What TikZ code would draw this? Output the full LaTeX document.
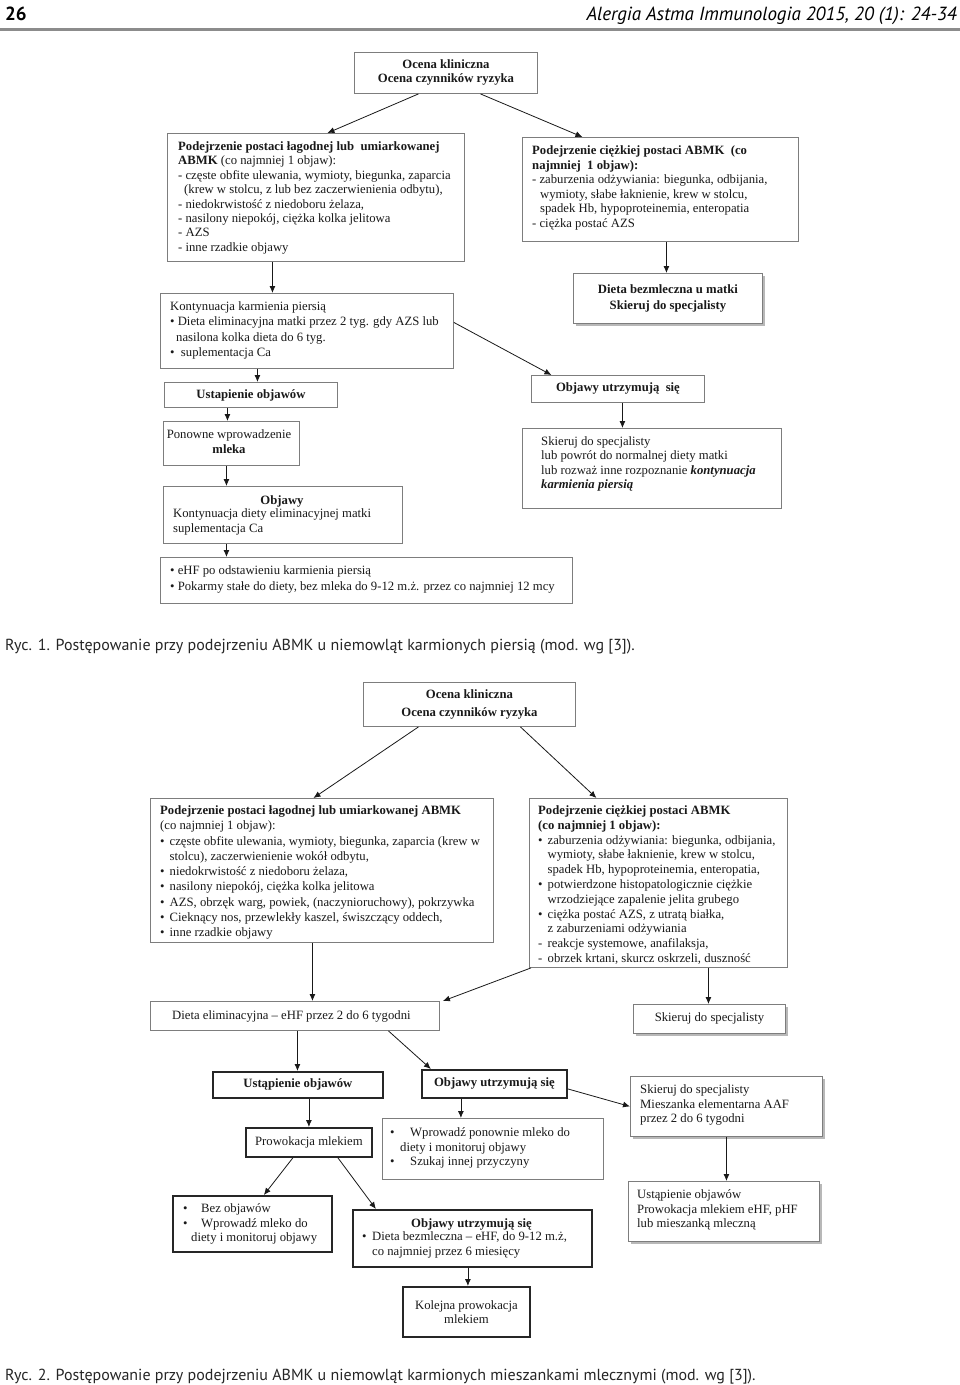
\documentclass[tikz,border=0pt]{standalone}
\usepackage{fontspec}
\setmainfont{Liberation Serif}
\newfontfamily\capfont{PT Sans}
\usetikzlibrary{arrows.meta,shadows,calc}
\definecolor{boxgray}{RGB}{125,125,125}
\definecolor{txtcol}{RGB}{25,25,25}
\definecolor{rulegray}{RGB}{140,140,140}
\newcommand{\itm}[1]{\makebox[9.5pt][l]{#1}}
\newcommand{\varrow}[4]{\coordinate (#1) at ([xshift=#3pt]#2.south); \draw[arr] (#1) -- (#1 |- #4.north);}
\begin{document}
\begin{tikzpicture}[x=1pt,y=-1pt,
  bx/.style={draw=boxgray, line width=0.9pt, fill=white, inner sep=0pt, anchor=north west, text=txtcol, align=center, font=\fontsize{12.7}{14.5}\selectfont},
  tbx/.style={bx, draw=black!85, line width=1.8pt},
  shd/.style={drop shadow={shadow xshift=3pt, shadow yshift=-3pt, fill=black!28, opacity=1}},
  tx/.style={anchor=north west, yshift=8.5pt, align=left, inner sep=0pt, text=txtcol, font=\fontsize{12.7}{14.5}\selectfont, execute at begin node={\rule{0pt}{11pt}}},
  ctx/.style={tx, anchor=north, align=center},
  arr/.style={-{Latex[length=7pt,width=6pt]}, line width=0.8pt, draw=black!90},
  captxt/.style={anchor=base west, inner sep=0pt, text=black!85, font=\capfont\fontsize{16}{16}\selectfont}
]
\fill[white] (0,0) rectangle (960,1385);
\useasboundingbox (0,0) rectangle (960,1385);

% header
\node[anchor=base west, inner sep=0pt, font=\capfont\bfseries\fontsize{19}{19}\selectfont] (pg) at (5,20) {26};
\node[anchor=base east, inner sep=0pt, font=\capfont\itshape\fontsize{19}{19}\selectfont] (jr) at (957,20) {Alergia Astma Immunologia 2015, 20 (1): 24-34};
\draw[line width=3pt, rulegray] (0,29) -- (960,29);

% ================= Figure 1 =================
\node[bx, minimum width=183pt, minimum height=41pt, font=\bfseries\fontsize{12.7}{14}\selectfont] (T1) at (354,52) {Ocena kliniczna\\Ocena czynników ryzyka};
\node[bx, minimum width=297pt, minimum height=128pt] (L1) at (167,133) {};
\node[tx, font=\fontsize{12.7}{14.4}\selectfont] (L1t) at (178,150) {\textbf{Podejrzenie postaci łagodnej lub\ \ umiarkowanej}\\
\textbf{ABMK} (co najmniej 1 objaw):\\
- częste obfite ulewania, wymioty, biegunka, zaparcia\\
\hspace*{6pt}(krew w stolcu, z lub bez zaczerwienienia odbytu),\\
- niedokrwistość z niedoboru żelaza,\\
- nasilony niepokój, ciężka kolka jelitowa\\
- AZS\\
- inne rzadkie objawy};
\node[bx, minimum width=276pt, minimum height=104pt] (R1) at (522,137) {};
\node[tx, font=\fontsize{12.7}{14.6}\selectfont] (R1t) at (532,154) {\textbf{Podejrzenie ciężkiej postaci ABMK\ \ (co}\\
\textbf{najmniej\ \ 1 objaw):}\\
- zaburzenia odżywiania: biegunka, odbijania,\\
\hspace*{8pt}wymioty, słabe łaknienie, krew w stolcu,\\
\hspace*{8pt}spadek Hb, hypoproteinemia, enteropatia\\
- ciężka postać AZS};
\node[bx, shd, minimum width=189pt, minimum height=50pt, font=\bfseries\fontsize{12.7}{16}\selectfont] (D1) at (573,273) {Dieta bezmleczna u matki\\Skieruj do specjalisty};
\node[bx, minimum width=293pt, minimum height=75pt] (K1) at (160,293) {};
\node[tx, font=\fontsize{12.7}{15.3}\selectfont] (K1t) at (170,310) {Kontynuacja karmienia piersią\\
• Dieta eliminacyjna matki przez 2 tyg. gdy AZS lub\\
\hspace*{6pt}nasilona kolka dieta do 6 tyg.\\
•\ \ suplementacja Ca};
\node[bx, minimum width=173pt, minimum height=25pt, font=\bfseries\fontsize{12.7}{14}\selectfont] (U1) at (164,382) {Ustapienie objawów};
\node[bx, minimum width=173pt, minimum height=27pt, font=\bfseries\fontsize{12.7}{14}\selectfont] (O1) at (531,375) {Objawy utrzymują\ \ się};
\node[bx, minimum width=136pt, minimum height=44pt] (P1) at (163,421) {};
\node[ctx] (P1t) at (229,438) {Ponowne wprowadzenie\\\textbf{mleka}};
\node[bx, minimum width=239pt, minimum height=57pt] (B1) at (163,486) {};
\node[ctx] (B1h) at (282,502) {\textbf{Objawy}};
\node[tx] (B1t) at (173,517) {Kontynuacja diety eliminacyjnej matki\\suplementacja Ca};
\node[bx, minimum width=412pt, minimum height=46pt] (E1) at (160,557) {};
\node[tx, font=\fontsize{12.7}{16}\selectfont] (E1t) at (170,574) {•\ eHF po odstawieniu karmienia piersią\\
•\ Pokarmy stałe do diety, bez mleka do 9-12 m.ż. przez co najmniej 12 mcy};
\node[bx, minimum width=259pt, minimum height=80pt] (S1) at (522,428) {};
\node[tx, font=\fontsize{12.7}{14.4}\selectfont] (S1t) at (541,445) {Skieruj do specjalisty\\
lub powrót do normalnej diety matki\\
lub rozważ inne rozpoznanie \textbf{\textit{kontynuacja}}\\
\textbf{\textit{karmienia piersią}}};

% arrows fig 1
\draw[arr] ([xshift=-27.5pt]T1.south) -- ([xshift=11.5pt]L1.north);
\draw[arr] ([xshift=34.5pt]T1.south) -- ([xshift=-78pt]R1.north);
\varrow{a1}{L1}{-43.5}{K1}
\varrow{a2}{R1}{6}{D1}
\draw[arr] ([yshift=8.5pt]K1.east) -- ([xshift=-66.5pt]O1.north);
\varrow{a3}{K1}{-49.5}{U1}
\varrow{a4}{U1}{-23.5}{P1}
\varrow{a5}{P1}{-5}{B1}
\varrow{a6}{B1}{-56.5}{E1}
\varrow{a7}{O1}{4.5}{S1}

\node[captxt] (c1) at (5,650) {Ryc. 1. Postępowanie przy podejrzeniu ABMK u niemowląt karmionych piersią (mod. wg [3]).};

% ================= Figure 2 =================
\node[bx, minimum width=212pt, minimum height=44pt, font=\bfseries\fontsize{12.7}{18}\selectfont] (T2) at (363,682) {Ocena kliniczna\\Ocena czynników ryzyka};
\node[bx, minimum width=343pt, minimum height=144pt] (L2) at (150,798) {};
\node[tx, font=\fontsize{12.7}{15.25}\selectfont] (L2t) at (160,814) {\textbf{Podejrzenie postaci łagodnej lub umiarkowanej ABMK}\\
(co najmniej 1 objaw):\\
\itm{•}częste obfite ulewania, wymioty, biegunka, zaparcia (krew w\\
\itm{}stolcu), zaczerwienienie wokół odbytu,\\
\itm{•}niedokrwistość z niedoboru żelaza,\\
\itm{•}nasilony niepokój, ciężka kolka jelitowa\\
\itm{•}AZS, obrzęk warg, powiek, (naczynioruchowy), pokrzywka\\
\itm{•}Cieknący nos, przewlekły kaszel, świszczący oddech,\\
\itm{•}inne rzadkie objawy};
\node[bx, minimum width=258pt, minimum height=169pt] (R2) at (529,798) {};
\node[tx, font=\fontsize{12.7}{14.8}\selectfont] (R2t) at (538,814) {\textbf{Podejrzenie ciężkiej postaci ABMK}\\
\textbf{(co najmniej 1 objaw):}\\
\itm{•}zaburzenia odżywiania: biegunka, odbijania,\\
\itm{}wymioty, słabe łaknienie, krew w stolcu,\\
\itm{}spadek Hb, hypoproteinemia, enteropatia,\\
\itm{•}potwierdzone histopatologicznie ciężkie\\
\itm{}wrzodziejące zapalenie jelita grubego\\
\itm{•}ciężka postać AZS, z utratą białka,\\
\itm{}z zaburzeniami odżywiania\\
\itm{-}reakcje systemowe, anafilaksja,\\
\itm{-}obrzek krtani, skurcz oskrzeli, duszność};
\node[bx, minimum width=289pt, minimum height=29pt] (D2) at (150,1001) {};
\node[tx] (D2t) at (172,1017) {Dieta eliminacyjna – eHF przez 2 do 6 tygodni};
\node[bx, shd, minimum width=152pt, minimum height=29pt] (SK2) at (633,1004) {Skieruj do specjalisty};
\node[tbx, minimum width=170pt, minimum height=26pt, font=\bfseries\fontsize{12.7}{14}\selectfont] (UA2) at (212,1071) {Ustąpienie objawów};
\node[tbx, minimum width=145pt, minimum height=28pt, font=\bfseries\fontsize{12.7}{14}\selectfont] (OU2) at (421,1069) {Objawy utrzymują się};
\node[bx, shd, minimum width=192pt, minimum height=60pt] (SM2) at (630,1076) {};
\node[tx] (SM2t) at (640,1093) {Skieruj do specjalisty\\Mieszanka elementarna AAF\\przez 2 do 6 tygodni};
\node[tbx, minimum width=126pt, minimum height=29pt] (PR2) at (245,1127) {Prowokacja mlekiem};
\node[bx, minimum width=221pt, minimum height=61pt] (WP2) at (382,1118) {};
\node[tx] (WP2t) at (390,1136) {\makebox[20pt][l]{•}Wprowadź ponownie mleko do\\
\hspace*{10pt}diety i monitoruj objawy\\
\makebox[20pt][l]{•}Szukaj innej przyczyny};
\node[bx, shd, minimum width=191pt, minimum height=60pt] (UP2) at (628,1181) {};
\node[tx] (UP2t) at (637,1198) {Ustąpienie objawów\\Prowokacja mlekiem eHF, pHF\\lub mieszanką mleczną};
\node[tbx, minimum width=159pt, minimum height=56pt] (BO2) at (172,1195) {};
\node[tx] (BO2t) at (183,1212) {\makebox[18pt][l]{•}Bez objawów\\
\makebox[18pt][l]{•}Wprowadź mleko do\\
\hspace*{8pt}diety i monitoruj objawy};
\node[tbx, minimum width=239pt, minimum height=57pt] (OB2) at (352,1209) {};
\node[ctx] (OB2h) at (471.5,1225) {\textbf{Objawy utrzymują się}};
\node[tx] (OB2t) at (362,1240) {\makebox[10pt][l]{•}Dieta bezmleczna – eHF, do 9-12 m.ż,\\
\hspace*{10pt}co najmniej przez 6 miesięcy};
\node[tbx, minimum width=127pt, minimum height=50pt] (KO2) at (402,1286) {Kolejna prowokacja\\mlekiem};

% arrows fig 2
\draw[arr] ([xshift=-51pt]T2.south) -- ([xshift=-8.5pt]L2.north);
\draw[arr] ([xshift=51pt]T2.south) -- ([xshift=-62pt]R2.north);
\varrow{b1}{L2}{-9.5}{D2}
\draw[arr] ([xshift=2pt]R2.south west) -- ([xshift=3pt]D2.north east);
\varrow{b2}{R2}{50}{SK2}
\varrow{b3}{D2}{2.5}{UA2}
\draw[arr] ([xshift=93.5pt]D2.south) -- ([xshift=-63.5pt]OU2.north);
\draw[arr] ([yshift=-5pt]OU2.east) -- (SM2.west);
\varrow{b4}{UA2}{11}{PR2}
\varrow{b5}{OU2}{-33.5}{WP2}
\varrow{b6}{SM2}{0}{UP2}
\draw[arr] ([xshift=-16pt]PR2.south) -- ([xshift=11.5pt]BO2.north);
\draw[arr] ([xshift=29pt]PR2.south) -- ([xshift=-96.5pt]OB2.north);
\varrow{b7}{OB2}{-4.5}{KO2}

\node[captxt] (c2) at (5,1380) {Ryc. 2. Postępowanie przy podejrzeniu ABMK u niemowląt karmionych mieszankami mlecznymi (mod. wg [3]).};
\end{tikzpicture}
\end{document}
